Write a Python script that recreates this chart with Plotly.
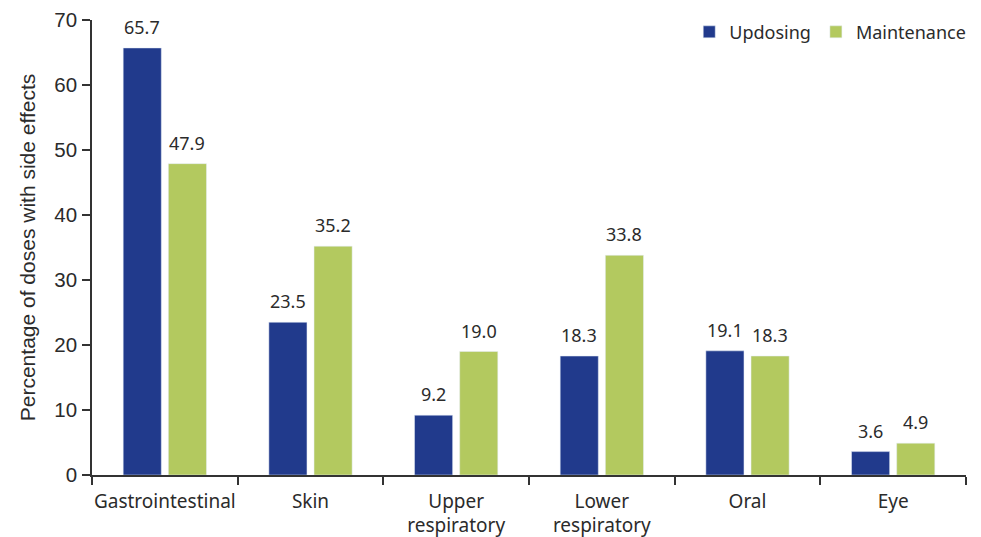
import plotly.graph_objects as go

categories = ["Gastrointestinal", "Skin", "Upper<br>respiratory", "Lower<br>respiratory", "Oral", "Eye"]
updosing = [65.7, 23.5, 9.2, 18.3, 19.1, 3.6]
maintenance = [47.9, 35.2, 19.0, 33.8, 18.3, 4.9]
y_ticks = [0, 10, 20, 30, 40, 50, 60, 70]

text_color = "#2b2b2b"
bargap = 0.38
label_font = dict(family="Noto Sans, sans-serif", size=18, color=text_color)

fig = go.Figure()
fig.add_trace(go.Bar(name="Updosing", x=categories, y=updosing, marker_color="#213A8C"))
fig.add_trace(go.Bar(name="Maintenance", x=categories, y=maintenance, marker_color="#B3C95F"))

# value labels above each bar (positions derived from data index and bar gap)
offset = (1 - bargap) / 4
for series, sign in ((updosing, -1), (maintenance, 1)):
    for i, v in enumerate(series):
        fig.add_annotation(x=i + sign * offset, y=v, xref="x", yref="y",
                           text=f"{v:.1f}", showarrow=False, yanchor="bottom",
                           yshift=7, font=label_font)

fig.update_layout(
    width=981, height=537,
    margin=dict(l=84, r=23, t=12, b=70, autoexpand=False),
    plot_bgcolor="white", paper_bgcolor="white",
    barmode="group", bargap=bargap, bargroupgap=0.156,
    legend=dict(orientation="h", x=1.006, xanchor="right", y=1.014, yanchor="top",
                font=dict(family="Noto Sans, sans-serif", size=18, color=text_color),
                itemwidth=30, traceorder="normal"),
    xaxis=dict(
        automargin=False, tickangle=0,
        showline=True, linecolor="#333333", linewidth=1.5,
        ticks="outside", tickson="boundaries", ticklen=8, tickcolor="#333333", tickwidth=1.5,
        ticklabelstandoff=8,
        tickfont=dict(family="Noto Sans, sans-serif", size=19, color=text_color),
        showgrid=False,
    ),
    yaxis=dict(
        automargin=False,
        range=[0, 70], tickvals=y_ticks, showline=True, linecolor="#333333", linewidth=1.5,
        ticks="outside", ticklen=8, tickcolor="#333333", tickwidth=1.5,
        ticklabelstandoff=1,
        tickfont=dict(family="Liberation Sans, Arial, sans-serif", size=20.5, color=text_color),
        showgrid=False, zeroline=False,
        title=dict(text="Percentage of doses with side effects", standoff=13,
                   font=dict(family="Liberation Sans, Arial, sans-serif", size=21, color=text_color)),
    ),
)

fig.write_html("out.html")
